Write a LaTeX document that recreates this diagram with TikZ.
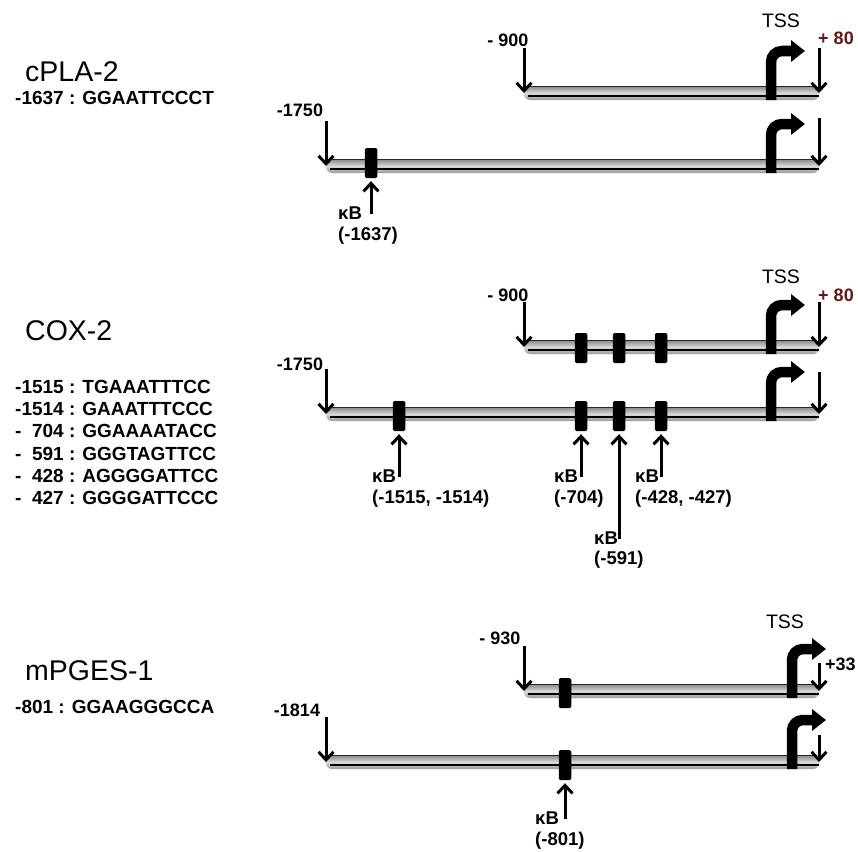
\documentclass[tikz,border=0pt]{standalone}
\usepackage{fontspec}
\setmainfont{Liberation Sans}
\usetikzlibrary{arrows.meta,positioning}
\definecolor{plusred}{RGB}{95,25,25}

\begin{document}
\begin{tikzpicture}[x=1pt,y=-1pt,
	every node/.style={inner sep=0pt},
	gene/.style={anchor=west,font=\fontsize{28.5}{30}\selectfont},
	motif/.style={anchor=west,font=\bfseries\fontsize{19}{22.2}\selectfont},
	poslab/.style={font=\bfseries\fontsize{18}{20}\selectfont},
	tsslab/.style={font=\fontsize{19.5}{21}\selectfont},
	kb/.style={anchor=west,font=\bfseries\fontsize{18.5}{20}\selectfont},
	site/.style={fill=black,minimum width=12.5pt,minimum height=30pt,rounded corners=1.5pt},
	cut/.style={line width=3pt,-{Straight Barb[length=8pt,width=15pt]}},
	tss/.style={line width=10.5pt,rounded corners=11pt,-{Triangle[length=14pt,width=21pt]}},
	tube/.style={top color=gray!95,bottom color=gray!80,middle color=gray!30,rounded corners=6pt}]
	\useasboundingbox (0,0) rectangle (858,851);

	\foreach \n/\xa/\yb/\xt/\ra in {cu/524/93/771/45, cl/326/166/771/48, xu/524/347/771/45, xl/326/414/771/42, mu/524/691/792/28, ml/326/762/792/27} {
		\shade[tube] (\xa,\yb-7) rectangle (819,\yb+7);
		\draw[gray!30!black,line width=1pt] (\xa+5,\yb-6.5) -- (817,\yb-6.5);
		\draw[line width=1.6pt] (\xa+4,\yb+3) -- (819,\yb+3);
		\coordinate (\n-l) at (\xa,\yb-45);
		\coordinate (\n-le) at (\xa,\yb);
		\coordinate (\n-r) at (819,\yb-\ra);
		\coordinate (\n-re) at (819,\yb);
		\coordinate (\n-t) at (\xt,\yb+7);
		\coordinate (\n-th) at (\xt+34,\yb-42);
		\draw[tss] (\n-t) |- (\n-th);
		\draw[cut] (\n-l) -- (\n-le);
		\draw[cut] (\n-r) -- (\n-re);
	}

	\node[gene] (cpla) at (25,72) {cPLA-2};
	\node[motif] (cplaseq) at (15,98) {-1637 : GGAATTCCCT};
	\node[poslab] (cpla900) at (508,40) {- 900};
	\node[poslab] (cpla1750) at (300,110) {-1750};
	\node[tsslab] (cplatss) at (781,21) {TSS};
	\node[poslab,text=plusred] (cpla80) at (836,38) {+ 80};
	\node[site] (cs1) at (371,163) {};
	\node[kb] (ckb1) at (338,213) {κB};
	\node[kb] (cpos1) at (338,236) {(-1637)};
	\coordinate (ck1) at (371,214);
	\draw[cut] (ck1) -- ([yshift=-3pt]cs1.south);

	\node[gene] (cox) at (25,331) {COX-2};
	\node[motif,anchor=base west] (coxseq) at (15,393.5) {\begin{tabular}[t]{@{}l@{}r@{ : }l@{}}
		-&1515&TGAAATTTCC\\
		-&1514&GAAATTTCCC\\
		- &704&GGAAAATACC\\
		- &591&GGGTAGTTCC\\
		- &428&AGGGGATTCC\\
		- &427&GGGGATTCCC\end{tabular}};
	\node[poslab] (cox900) at (508,295) {- 900};
	\node[poslab] (cox1750) at (300,364) {-1750};
	\node[tsslab] (coxtss) at (781,277) {TSS};
	\node[poslab,text=plusred] (cox80) at (836,295) {+ 80};
	\foreach \x [count=\i] in {581,619,661}
		\node[site] (xu\i) at (\x,348) {};
	\foreach \x [count=\i] in {399,581,619,661}
		\node[site] (xs\i) at (\x,416) {};
	\node[kb] (xkb1) at (372,476) {κB};
	\node[kb] (xpos1) at (372,499) {(-1515, -1514)};
	\node[kb] (xkb2) at (554,476) {κB};
	\node[kb] (xpos2) at (554,499) {(-704)};
	\node[kb] (xkb3) at (594,538) {κB};
	\node[kb] (xpos3) at (594,560) {(-591)};
	\node[kb] (xkb4) at (635,476) {κB};
	\node[kb] (xpos4) at (635,499) {(-428, -427)};
	\coordinate (xk1) at (399,477);
	\coordinate (xk2) at (581,477);
	\coordinate (xk3) at (619,539);
	\coordinate (xk4) at (661,477);
	\foreach \i in {1,...,4}
		\draw[cut] (xk\i) -- ([yshift=-3pt]xs\i.south);

	\node[gene] (mpges) at (25,671) {mPGES-1};
	\node[motif] (mpgesseq) at (15,707) {-801 : GGAAGGGCCA};
	\node[poslab] (mpges930) at (500,638) {- 930};
	\node[poslab] (mpges1814) at (297,710) {-1814};
	\node[tsslab] (mpgestss) at (785,622) {TSS};
	\node[poslab,anchor=west] (mpges33) at (825,664) {+33};
	\node[site] (mu1) at (565,693) {};
	\node[site] (ms1) at (565,765) {};
	\node[kb] (mkb1) at (535,818) {κB};
	\node[kb] (mpos1) at (535,841) {(-801)};
	\coordinate (mk1) at (565,819);
	\draw[cut] (mk1) -- ([yshift=-3pt]ms1.south);
\end{tikzpicture}
\end{document}
